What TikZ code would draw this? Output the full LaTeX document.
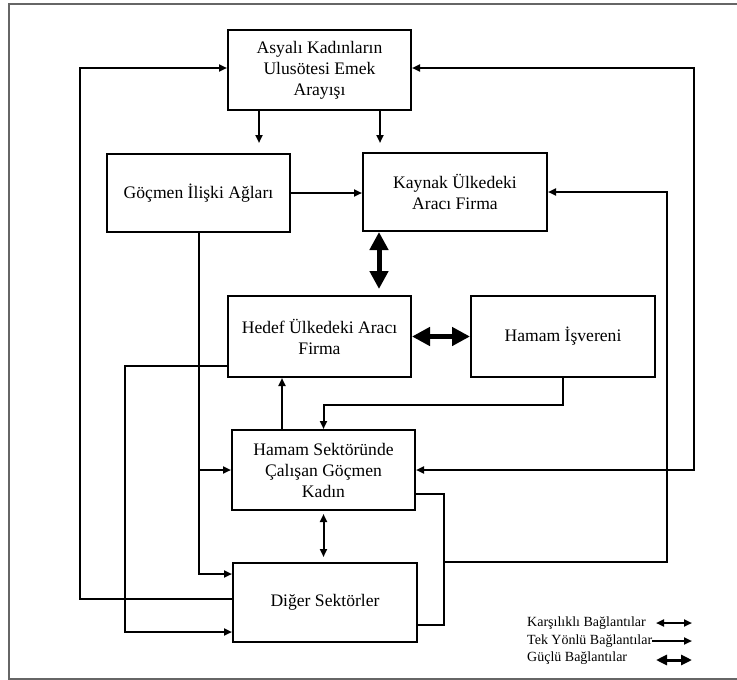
\documentclass[tikz,border=0pt]{standalone}
\usepackage{fontspec}
\setmainfont{Liberation Serif}
\usetikzlibrary{arrows.meta}

\begin{document}
\begin{tikzpicture}[x=1pt,y=-1pt,
kutu/.style={%
anchor=north west,
draw,
line width=2pt,
minimum width=183pt,
minimum height=80pt,
align=center,
font=\fontsize{17.6}{21}\selectfont
},
hat/.style={%
line width=2pt
},
ok/.style={%
hat,
-{Triangle[length=8pt,width=7pt]}
},
iki/.style={%
hat,
{Triangle[length=8pt,width=7pt]}-{Triangle[length=8pt,width=7pt]}
},
guclu/.style={%
line width=5pt,
{Triangle[length=18pt,width=18pt]}-{Triangle[length=18pt,width=18pt]}
},
lejguclu/.style={%
line width=3pt,
{Triangle[length=11pt,width=10pt]}-{Triangle[length=11pt,width=10pt]}
},
lejant/.style={%
anchor=west,
inner sep=0pt,
font=\fontsize{14}{16}\selectfont
},
cerceve/.style={%
draw=black!60,
line width=1.5pt
},
]
\useasboundingbox(0,0)rectangle(737,680);
\draw[cerceve](737,4)--(9,4)--(9,679)--(737,679);
%% kutular
\node[kutu]at(227,29)(asya){Asyalı Kadınların\\Ulusötesi Emek\\Arayışı};
\node[kutu,minimum height=78pt]at(106,153)(gocmen){Göçmen İlişki Ağları};
\node[kutu,minimum width=184pt,minimum height=78pt]at(362,152)(kaynak){Kaynak Ülkedeki\\Aracı Firma};
\node[kutu,minimum height=81pt]at(227,295)(hedef){Hedef Ülkedeki Aracı\\Firma};
\node[kutu,minimum width=184pt,minimum height=81pt]at(470,295)(isveren){Hamam İşvereni};
\node[kutu]at(231,429)(sektor){Hamam Sektöründe\\Çalışan Göçmen\\Kadın};
\node[kutu,minimum width=184pt,minimum height=79pt]at(232,562)(diger){Diğer Sektörler};
%% baglantilar
\draw[ok,shorten >=10pt]([xshift=32pt]asya.south west)--([xshift=153pt]gocmen.north west);
\draw[ok,shorten >=9pt]([xshift=153pt]asya.south west)--([xshift=18pt]kaynak.north west);
\draw[ok](gocmen.east)--(gocmen.east-|kaynak.west);
\draw[guclu,shorten >=6pt]([xshift=17pt]kaynak.south west)--([xshift=152pt]hedef.north west);
\draw[guclu](hedef.east)--(isveren.west);
\draw[ok](isveren.south)--++(0,27)-|(sektor.north);
\draw[ok]([xshift=51pt]sektor.north west)--([xshift=55pt]hedef.south west);
\draw[iki,shorten <=3pt,shorten >=5pt](sektor.south)--(sektor.south|-diger.north);
\draw[ok](gocmen.south)|-([yshift=-12pt]diger.north west);
\draw[ok](gocmen.south|-sektor.west)--(sektor.west);
\draw[ok]([yshift=12pt]hedef.south west)--++(-102,0)|-([yshift=11pt]diger.south west);
\draw[ok]([yshift=4pt]diger.west)--++(-152,0)|-([yshift=2pt]asya.west);
\draw[iki]([yshift=2pt]asya.east)--++(282,0)|-(sektor.east);
\coordinate(k1)at([xshift=26pt]diger.north east);
\draw[hat]([yshift=17pt]sektor.south east)-|(k1)|-([yshift=18pt]diger.south east);
\draw[ok](k1)--++(223,0)|-(kaynak.east);
%% lejant
\node[lejant]at(527,623)(l1){Karşılıklı Bağlantılar};
\node[lejant]at(527,641)(l2){Tek Yönlü Bağlantılar};
\node[lejant]at(527,658)(l3){Güçlü Bağlantılar};
\draw[iki](l1.east-|656,0)--(l1.east-|692,0);
\draw[ok](l2.east)--(l2.east-|692,0);
\draw[lejguclu]([yshift=-2pt]l3.east-|656,0)--([yshift=-2pt]l3.east-|692,0);
\end{tikzpicture}
\end{document}
